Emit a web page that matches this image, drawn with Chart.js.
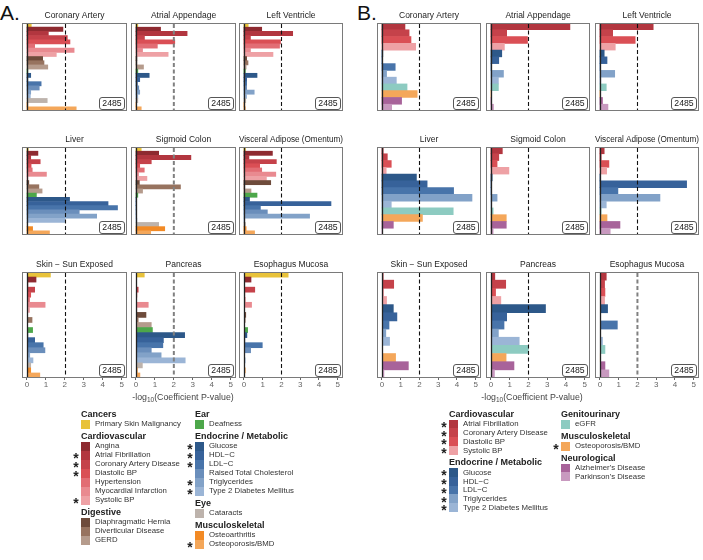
<!DOCTYPE html>
<html>
<head>
<meta charset="utf-8">
<script src="https://cdn.jsdelivr.net/npm/chart.js@4.4.1/dist/chart.umd.min.js"></script>
<style>
  body { margin: 0; background: #fff; }
  #fig { position: relative; width: 703px; height: 560px; overflow: hidden;
         font-family: 'Liberation Sans', Arial, sans-serif; color: #1a1a1a; }
  .abs { position: absolute; white-space: nowrap; }
  canvas { position: absolute; }
</style>
</head>
<body>
<div id="fig"></div>
<script>
// ---- data ----
const tissues = ['Coronary Artery', 'Atrial Appendage', 'Left Ventricle',
  'Liver', 'Sigmoid Colon', 'Visceral Adipose (Omentum)',
  'Skin \u2212 Sun Exposed', 'Pancreas', 'Esophagus Mucosa'];
const sampleCount = '2485';
const xTicks = [0, 1, 2, 3, 4, 5];
const threshold = 2;

// panel A traits
const traitsA = ['Primary Skin Malignancy', 'Angina', 'Atrial Fibrillation', 'Coronary Artery Disease',
  'Diastolic BP', 'Hypertension', 'Myocardial Infarction', 'Systolic BP',
  'Diaphragmatic Hernia', 'Diverticular Disease', 'GERD', 'Deafness',
  'Glucose', 'HDL\u2212C', 'LDL\u2212C', 'Raised Total Cholesterol', 'Triglycerides', 'Type 2 Diabetes Mellitus',
  'Cataracts', 'Osteoarthritis', 'Osteoporosis/BMD'];
const groupsA = ['Cancers', 'Cardiovascular', 'Cardiovascular', 'Cardiovascular', 'Cardiovascular',
  'Cardiovascular', 'Cardiovascular', 'Cardiovascular', 'Digestive', 'Digestive', 'Digestive', 'Ear',
  'Endocrine / Metabolic', 'Endocrine / Metabolic', 'Endocrine / Metabolic', 'Endocrine / Metabolic',
  'Endocrine / Metabolic', 'Endocrine / Metabolic', 'Eye', 'Musculoskeletal', 'Musculoskeletal'];
const starsA = [0, 0, 1, 1, 1, 0, 0, 1, 0, 0, 0, 0, 1, 1, 1, 0, 1, 1, 0, 0, 1];
const colorsA = ['#E8C23A', '#8E2A30', '#B2363F', '#C5424A', '#DA4F55', '#E26D74', '#E98A90', '#EEA1A5',
  '#6E4B3B', '#97735F', '#B59B8C', '#4DA74A',
  '#2D5889', '#37629A', '#4874AA', '#6A8EBB', '#82A2C8', '#9BB5D6',
  '#BDB3AC', '#F28A25', '#F4A75A'];

// -log10(p) per tissue, panel A (same order as traitsA)
const coronaryA   = [0.23, 1.9, 1.13, 2.13, 2.27, 0.41, 2.49, 1.55, 0.83, 0.9, 1.1, 0.05, 0.2, 0.05, 0.75, 0.65, 0.2, 0.18, 1.07, 0.05, 2.6];
const atrialA     = [0.1, 1.3, 2.7, 0.45, 2.05, 1.13, 0.35, 1.7, 0.05, 0.05, 0.4, 0.1, 0.7, 0.2, 0.08, 0.15, 0.2, 0.1, 0.1, 0.03, 0.28];
const ventricleA  = [0.23, 0.95, 2.6, 0.35, 1.95, 1.9, 0.35, 1.55, 0.15, 0.22, 0.12, 0.08, 0.7, 0.15, 0.15, 0.15, 0.55, 0.15, 0.1, 0.05, 0.08];
const liverA      = [0.07, 0.58, 0.2, 0.7, 0.22, 0.28, 1.03, 0.05, 0.1, 0.63, 0.8, 0.5, 2.25, 4.28, 4.78, 2.76, 3.68, 2.0, 0.03, 0.3, 1.19];
const sigmoidA    = [0.28, 1.2, 2.9, 0.81, 0.2, 0.44, 0.14, 0.58, 0.18, 2.35, 0.35, 0.1, 0.03, 0.03, 0.03, 0.03, 0.03, 0.05, 1.2, 1.52, 0.78];
const visceralA   = [0.09, 1.52, 0.27, 1.73, 0.84, 0.95, 1.7, 1.2, 1.43, 0.05, 0.38, 0.7, 0.3, 4.64, 0.88, 1.25, 3.5, 0.05, 0.09, 0.12, 0.57];
const skinA       = [1.24, 0.48, 0.05, 0.41, 0.2, 0.14, 0.96, 0.14, 0.03, 0.27, 0.03, 0.3, 0.05, 0.41, 0.86, 0.95, 0.15, 0.32, 0.2, 0.2, 0.68];
const pancreasA   = [0.44, 0.03, 0.03, 0.12, 0.05, 0.04, 0.65, 0.05, 0.53, 0.12, 0.81, 0.87, 2.57, 1.45, 1.42, 0.81, 1.33, 2.6, 0.34, 0.07, 0.21];
const esophagusA  = [2.36, 0.38, 0.03, 0.58, 0.05, 0.07, 0.41, 0.03, 0.1, 0.07, 0.03, 0.2, 0.16, 0.05, 0.98, 0.36, 0.03, 0.07, 0.03, 0.07, 0.03];

// panel B traits
const traitsB = ['Atrial Fibrillation', 'Coronary Artery Disease', 'Diastolic BP', 'Systolic BP',
  'Glucose', 'HDL\u2212C', 'LDL\u2212C', 'Triglycerides', 'Type 2 Diabetes Mellitus',
  'eGFR', 'Osteoporosis/BMD', "Alzheimer's Disease", "Parkinson's Disease"];
const groupsB = ['Cardiovascular', 'Cardiovascular', 'Cardiovascular', 'Cardiovascular',
  'Endocrine / Metabolic', 'Endocrine / Metabolic', 'Endocrine / Metabolic', 'Endocrine / Metabolic',
  'Endocrine / Metabolic', 'Genitourinary', 'Musculoskeletal', 'Neurological', 'Neurological'];
const starsB = [1, 1, 1, 1, 1, 1, 1, 1, 1, 0, 1, 0, 0];
const colorsB = ['#B2363F', '#C5424A', '#DA4F55', '#EEA1A5',
  '#2D5889', '#37629A', '#4874AA', '#82A2C8', '#9BB5D6',
  '#8DCBC1', '#F4A75A', '#A8639A', '#C899BF'];

const coronaryB  = [1.23, 1.45, 1.55, 1.8, 0.05, 0.02, 0.71, 0.25, 0.77, 1.34, 1.88, 1.05, 0.52];
const atrialB    = [4.21, 0.84, 1.95, 0.72, 0.58, 0.42, 0.02, 0.67, 0.4, 0.4, 0.03, 0.02, 0.14];
const ventricleB = [2.84, 0.68, 1.88, 0.82, 0.23, 0.38, 0.02, 0.79, 0.05, 0.34, 0.03, 0.14, 0.43];
const liverB     = [0.07, 0.29, 0.5, 0.23, 1.84, 2.41, 3.82, 4.8, 0.5, 3.8, 2.16, 0.61, 0.02];
const sigmoidB   = [0.61, 0.42, 0.33, 0.96, 0.07, 0.02, 0.02, 0.33, 0.02, 0.12, 0.82, 0.82, 0.12];
const visceralB  = [0.23, 0.07, 0.48, 0.36, 0.02, 4.62, 0.96, 3.2, 0.34, 0.07, 0.38, 1.07, 0.55];
const skinB      = [0.07, 0.63, 0.07, 0.25, 0.61, 0.8, 0.38, 0.21, 0.41, 0.03, 0.73, 1.41, 0.11];
const pancreasB  = [0.21, 0.79, 0.25, 0.53, 2.91, 0.84, 0.7, 0.4, 1.51, 2.0, 0.81, 1.23, 0.19];
const esophagusB = [0.34, 0.25, 0.27, 0.25, 0.41, 0.03, 0.93, 0.03, 0.14, 0.27, 0.02, 0.27, 0.48];

const valuesA = [coronaryA, atrialA, ventricleA, liverA, sigmoidA, visceralA, skinA, pancreasA, esophagusA];
const valuesB = [coronaryB, atrialB, ventricleB, liverB, sigmoidB, visceralB, skinB, pancreasB, esophagusB];

// ---- layout ----
const FONT = "'Liberation Sans', Arial, sans-serif";
const fig = document.getElementById('fig');
const rowTop = [23, 147, 272];
const PH = 106;
const AXIS_H = 18;
const TITLE_H = 15; // 3 + 10 + 2
const XMIN = -0.26, XMAX = 5.28;

function txt(s, x, y, size, o = {}) {
  const d = document.createElement('div');
  d.className = 'abs';
  d.innerHTML = s;
  d.style.top = Math.round(y - size * 0.6) + 'px';
  d.style.fontSize = size + 'px';
  d.style.lineHeight = (size * 1.2) + 'px';
  if (o.center) {
    d.style.left = Math.round(x - 100) + 'px';
    d.style.width = '200px';
    d.style.textAlign = 'center';
  } else {
    d.style.left = x + 'px';
  }
  if (o.bold) d.style.fontWeight = 'bold';
  if (o.color) d.style.color = o.color;
  fig.appendChild(d);
  return d;
}

function box(x, y, w, h, color) {
  const d = document.createElement('div');
  d.className = 'abs';
  d.style.cssText += `left:${x}px;top:${y}px;width:${w}px;height:${h}px;background:${color}`;
  fig.appendChild(d);
}

// border, zero line, threshold line and count label
const decor = {
  id: 'decor',
  afterDraw(chart, args, opts) {
    const { ctx, chartArea: a, scales: { x } } = chart;
    ctx.save();
    const x0 = Math.round(x.getPixelForValue(0)) + 0.5;
    ctx.strokeStyle = '#222';
    ctx.lineWidth = 1.3;
    ctx.beginPath(); ctx.moveTo(x0, a.top); ctx.lineTo(x0, a.bottom); ctx.stroke();

    const xt = x.getPixelForValue(threshold);
    ctx.setLineDash([4, 2.5]);
    if (opts.grey) { ctx.strokeStyle = '#808080'; ctx.lineWidth = 2; }
    else { ctx.strokeStyle = '#111'; ctx.lineWidth = 1.1; }
    const xd = opts.grey ? xt : Math.round(xt) + 0.5;
    ctx.beginPath(); ctx.moveTo(xd, a.top + 1); ctx.lineTo(xd, a.bottom); ctx.stroke();
    ctx.setLineDash([]);

    ctx.strokeStyle = '#7a7a7a';
    ctx.lineWidth = 1;
    ctx.strokeRect(a.left + 0.5, a.top + 0.5, a.width - 1, a.height - 1);

    const bw = 25, bh = 12;
    const bx = a.right - 3 - bw, by = a.bottom - 2 - bh;
    ctx.beginPath();
    ctx.roundRect(bx + 0.5, by + 0.5, bw, bh, 2.5);
    ctx.fillStyle = '#fff';
    ctx.fill();
    ctx.strokeStyle = '#444';
    ctx.lineWidth = 0.9;
    ctx.stroke();
    ctx.fillStyle = '#1a1a1a';
    ctx.font = '8.7px ' + FONT;
    ctx.textAlign = 'center';
    ctx.textBaseline = 'middle';
    ctx.fillText(sampleCount, bx + bw / 2 + 0.5, by + bh / 2 + 1);
    ctx.restore();
  }
};

function panel(left, top, w, title, labels, values, colors, showAxis, grey) {
  const cv = document.createElement('canvas');
  const h = TITLE_H + PH + (showAxis ? AXIS_H : 0);
  cv.width = w; cv.height = h;
  cv.style.left = left + 'px';
  cv.style.top = (top - TITLE_H) + 'px';
  cv.style.width = w + 'px';
  cv.style.height = h + 'px';
  fig.appendChild(cv);
  new Chart(cv, {
    type: 'bar',
    data: {
      labels: labels,
      datasets: [{
        data: values,
        backgroundColor: colors,
        borderWidth: 0,
        barPercentage: 1,
        categoryPercentage: 1
      }]
    },
    options: {
      indexAxis: 'y',
      responsive: false,
      animation: false,
      events: [],
      layout: { padding: 0 },
      plugins: {
        legend: { display: false },
        tooltip: { enabled: false },
        title: {
          display: true, text: title, color: '#222',
          font: { size: 8.5, family: FONT, weight: 'normal', lineHeight: '10px' },
          padding: { top: 3, bottom: 2 }
        },
        decor: { grey: grey }
      },
      scales: {
        x: {
          type: 'linear', min: XMIN, max: XMAX, display: showAxis,
          afterBuildTicks: s => { s.ticks = xTicks.map(v => ({ value: v })); },
          afterFit: s => { s.height = AXIS_H; },
          grid: { drawOnChartArea: false, drawTicks: true, tickLength: 2, color: '#666' },
          border: { display: false },
          ticks: { color: '#666', font: { size: 8, family: FONT }, padding: 0, maxRotation: 0, autoSkip: false }
        },
        y: { display: false, grid: { display: false } }
      }
    },
    plugins: [decor]
  });
}

function figurePanel(colLeft, widths, labels, values, colors, greyDash) {
  for (let r = 0; r < 3; r++) {
    for (let c = 0; c < 3; c++) {
      const i = r * 3 + c;
      panel(colLeft[c], rowTop[r], widths[c], tissues[i], labels, values[i], colors, r === 2, greyDash[i]);
    }
  }
}

function legend(cols, xs, step, traits, groups, colors, stars) {
  cols.forEach((col, ci) => {
    const x = xs[ci];
    let y = 414;
    col.forEach(g => {
      txt(g, x, y, 9, { bold: true, color: '#222' });
      y += 10;
      traits.forEach((t, k) => {
        if (groups[k] !== g) return;
        box(x, y - step / 2, 9, step + 0.2, colors[k]);
        txt(t, x + 14, y, 7.8, { color: '#333' });
        if (stars[k]) {
          const s = txt('*', x - 7.7, y, 14, { bold: true, color: '#222' });
          s.style.top = Math.round(y - 5.3) + 'px';
        }
        y += step;
      });
      y += 12 - step;
    });
  });
}

// panel letters
txt('A.', 0, 12.5, 21, { color: '#111' });
txt('B.', 357, 12.5, 21, { color: '#111' });

figurePanel([22, 131, 239], [105, 105, 104], traitsA, valuesA, colorsA, [0, 1, 0, 0, 1, 0, 0, 1, 0]);
figurePanel([377, 486, 595], [104, 104, 104], traitsB, valuesB, colorsB, [0, 0, 0, 0, 0, 0, 0, 0, 1]);

const axisTitle = '-log<sub style="font-size:6.5px;vertical-align:-2px;line-height:0">10</sub>(Coefficient P-value)';
txt(axisTitle, 183, 397, 8.8, { center: true, color: '#444' });
txt(axisTitle, 532, 397, 8.8, { center: true, color: '#444' });

legend([['Cancers', 'Cardiovascular', 'Digestive'], ['Ear', 'Endocrine / Metabolic', 'Eye', 'Musculoskeletal']],
  [81, 195], 9, traitsA, groupsA, colorsA, starsA);
legend([['Cardiovascular', 'Endocrine / Metabolic'], ['Genitourinary', 'Musculoskeletal', 'Neurological']],
  [449, 561], 8.8, traitsB, groupsB, colorsB, starsB);
</script>
</body>
</html>
